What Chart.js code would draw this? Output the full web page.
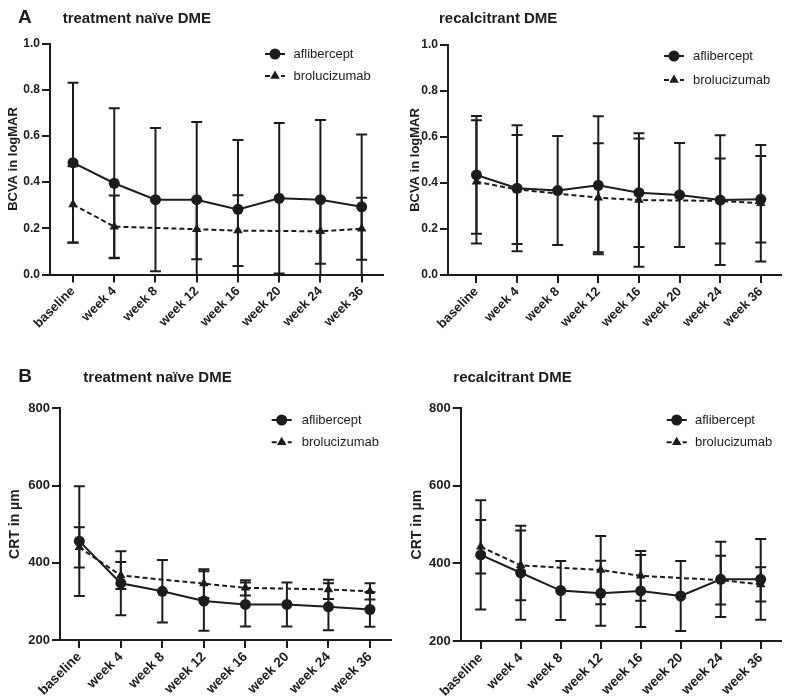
<!DOCTYPE html>
<html><head><meta charset="utf-8">
<script src="https://cdn.jsdelivr.net/npm/chart.js@4.4.0/dist/chart.umd.min.js"></script>
<style>
html,body{margin:0;padding:0;background:#fff;}
#wrap{position:relative;width:788px;height:698px;overflow:hidden;background:#fff;}
canvas{position:absolute;left:0;top:0;}
.t{position:absolute;font-family:"Liberation Sans",Arial,sans-serif;font-weight:bold;color:#1c1c1c;white-space:nowrap;line-height:1;}
</style></head><body>
<div id="wrap">
<canvas id="c1" width="788" height="698"></canvas>
<canvas id="c2" width="788" height="698"></canvas>
<canvas id="c3" width="788" height="698"></canvas>
<canvas id="c4" width="788" height="698"></canvas>
<div class="t" style="left:18px;top:7.4px;font-size:19px">A</div>
<div class="t" style="left:62.7px;top:9.9px;font-size:15px">treatment naïve DME</div>
<div class="t" style="left:439px;top:10.3px;font-size:15px">recalcitrant DME</div>
<div class="t" style="left:18.3px;top:366.3px;font-size:19px">B</div>
<div class="t" style="left:83.3px;top:368.8px;font-size:15px">treatment naïve DME</div>
<div class="t" style="left:453.3px;top:368.8px;font-size:15px">recalcitrant DME</div>
</div>
<script>
// ---- data ----
const categories = ['baseline','week 4','week 8','week 12','week 16','week 20','week 24','week 36'];
const seriesNames = ['aflibercept','brolucizumab'];
const bcvaTicks = [0.0, 0.2, 0.4, 0.6, 0.8, 1.0];
const crtTicks = [200, 400, 600, 800];

// BCVA, treatment naive
const bcvaNaiveAfli    = [0.484, 0.395, 0.324, 0.324, 0.282, 0.330, 0.324, 0.293];
const bcvaNaiveAfliSD  = [0.346, 0.325, 0.310, 0.336, 0.300, 0.326, 0.345, 0.313];
const bcvaNaiveBrolu   = [0.303, 0.207, null, 0.196, 0.190, null, 0.187, 0.198];
const bcvaNaiveBroluSD = [0.166, 0.135, null, 0.130, 0.153, null, 0.140, 0.134];
// BCVA, recalcitrant
const bcvaRecAfli    = [0.435, 0.377, 0.367, 0.390, 0.358, 0.348, 0.326, 0.329];
const bcvaRecAfliSD  = [0.256, 0.274, 0.237, 0.300, 0.236, 0.226, 0.282, 0.188];
const bcvaRecBrolu   = [0.405, 0.372, null, 0.336, 0.326, null, 0.322, 0.312];
const bcvaRecBroluSD = [0.268, 0.237, null, 0.237, 0.290, null, 0.185, 0.253];
// CRT, treatment naive
const crtNaiveAfli    = [456, 347, 326, 301, 292, 292, 286, 279];
const crtNaiveAfliSD  = [142, 83, 81, 77, 57, 57, 61, 45];
const crtNaiveBrolu   = [440, 367, null, 346, 335, null, 331, 326];
const crtNaiveBroluSD = [52, 35, null, 37, 20, null, 25, 21];
// CRT, recalcitrant
const crtRecAfli    = [422, 376, 330, 323, 329, 316, 359, 359];
const crtRecAfliSD  = [141, 121, 76, 84, 93, 90, 97, 104];
const crtRecBrolu   = [443, 395, null, 383, 368, null, 357, 346];
const crtRecBroluSD = [69, 90, null, 88, 64, null, 63, 44];

// ---- styling / plugins ----
const INK = '#1c1c1c';
const FAM = "'Liberation Sans', Arial, sans-serif";

const errorBarPlugin = {
  id: 'errbars',
  beforeDatasetsDraw(chart) {
    const {ctx, chartArea, scales} = chart;
    const x = scales.x, y = scales.y;
    ctx.save();
    ctx.beginPath();
    ctx.rect(chartArea.left - 10, chartArea.top - 10, chartArea.width + 20, chartArea.height + 10);
    ctx.clip();
    ctx.strokeStyle = INK;
    ctx.lineWidth = 2;
    ctx.setLineDash([]);
    chart.data.datasets.forEach(ds => {
      const sd = ds.sd;
      if (!sd) return;
      ds.data.forEach((pt, i) => {
        if (pt.y === null || sd[i] === null) return;
        const px = x.getPixelForValue(pt.x);
        const hi = y.getPixelForValue(pt.y + sd[i]);
        const lo = y.getPixelForValue(pt.y - sd[i]);
        ctx.beginPath();
        ctx.moveTo(px, hi); ctx.lineTo(px, lo);
        ctx.moveTo(px - 5.5, hi); ctx.lineTo(px + 5.5, hi);
        ctx.moveTo(px - 5.5, lo); ctx.lineTo(px + 5.5, lo);
        ctx.stroke();
      });
    });
    ctx.restore();
  }
};

const legendPlugin = {
  id: 'legendCustom',
  afterDraw(chart, args, opts) {
    const ctx = chart.ctx;
    ctx.save();
    ctx.fillStyle = INK; ctx.strokeStyle = INK;
    ctx.font = `${opts.size}px ${FAM}`;
    ctx.textBaseline = 'middle';
    ctx.textAlign = 'left';
    const rows = [opts.y1, opts.y2];
    seriesNames.forEach((name, k) => {
      const yy = rows[k], mx = opts.mx;
      ctx.lineWidth = 2;
      ctx.setLineDash(k === 0 ? [] : [5, 3]);
      ctx.beginPath(); ctx.moveTo(mx - 10, yy); ctx.lineTo(mx + 10, yy); ctx.stroke();
      ctx.setLineDash([]);
      ctx.beginPath();
      if (k === 0) {
        ctx.arc(mx, yy, 5.5, 0, Math.PI * 2);
      } else {
        const r = 5.5;
        ctx.moveTo(mx, yy - r);
        ctx.lineTo(mx + r * 0.866, yy + r * 0.5);
        ctx.lineTo(mx - r * 0.866, yy + r * 0.5);
        ctx.closePath();
      }
      ctx.fill();
      ctx.fillText(name, opts.tx, yy + 0.5);
    });
    ctx.restore();
  }
};

function makePanel(id, g) {
  const W = 788, H = 698;
  const xH = Math.min(60, H - g.bottom);
  const tickFontX = {family: FAM, size: g.xFont, weight: 'bold'};
  const tickFontY = {family: FAM, size: g.yFont, weight: 'bold'};
  const gridOpts = {display: true, drawOnChartArea: false, drawTicks: true, tickLength: 8, color: INK, lineWidth: 2};
  const borderOpts = {display: true, color: INK, width: 2};
  new Chart(document.getElementById(id), {
    type: 'line',
    data: {
      datasets: [
        {
          label: seriesNames[0],
          data: g.afli.map((v, i) => ({x: i, y: v})),
          sd: g.afliSD,
          borderColor: INK, backgroundColor: INK, borderWidth: 2,
          pointStyle: 'circle', pointRadius: 5.5, pointBorderWidth: 0, pointHoverRadius: 5.5,
          tension: 0, fill: false
        },
        {
          label: seriesNames[1],
          data: g.brolu.map((v, i) => ({x: i, y: v})),
          sd: g.broluSD,
          borderColor: INK, backgroundColor: INK, borderWidth: 2, borderDash: [5, 3],
          pointStyle: 'triangle', pointRadius: 5.5, pointBorderWidth: 0, pointHoverRadius: 5.5,
          tension: 0, fill: false, spanGaps: true
        }
      ]
    },
    options: {
      responsive: false, animation: false,
      layout: {padding: {left: g.left - g.yW, top: g.top, right: W - g.right, bottom: H - g.bottom - xH}},
      plugins: {
        legend: {display: false}, tooltip: {enabled: false}, title: {display: false},
        legendCustom: g.legend
      },
      scales: {
        x: {
          type: 'linear', min: g.xmin, max: g.xmax,
          afterBuildTicks: s => { s.ticks = categories.map((c, i) => ({value: i})); },
          afterFit: s => { s.height = xH; },
          ticks: {callback: v => categories[v], autoSkip: false, maxRotation: 45, minRotation: 45,
                  font: tickFontX, color: INK, padding: 1},
          grid: gridOpts, border: borderOpts
        },
        y: {
          type: 'linear', min: g.ymin, max: g.ymax,
          afterBuildTicks: s => { s.ticks = g.yTicks.map(v => ({value: v})); },
          afterFit: s => { s.width = g.yW; },
          ticks: {callback: g.fmt, font: tickFontY, color: INK, padding: 2},
          grid: gridOpts, border: borderOpts,
          title: {display: true, text: g.yTitle, color: INK,
                  font: {family: FAM, size: g.titleSize, weight: 'bold'},
                  padding: {top: g.titlePad, bottom: 0}}
        }
      }
    },
    plugins: [errorBarPlugin, legendPlugin]
  });
}

const fmtBcva = v => Number(v).toFixed(1);
const fmtCrt = v => String(v);

makePanel('c1', {
  left: 50, right: 382.7, top: 43.5, bottom: 274.5, xmin: -0.558, xmax: 7.51,
  yW: 50, titlePad: 6, titleSize: 13, xFont: 13, yFont: 12,
  ymin: 0, ymax: 1, yTicks: bcvaTicks, fmt: fmtBcva, yTitle: 'BCVA in logMAR',
  afli: bcvaNaiveAfli, afliSD: bcvaNaiveAfliSD, brolu: bcvaNaiveBrolu, broluSD: bcvaNaiveBroluSD,
  legend: {mx: 275, tx: 293.5, y1: 54, y2: 76, size: 13}
});
makePanel('c2', {
  left: 448, right: 780.7, top: 45, bottom: 275, xmin: -0.70, xmax: 7.49,
  yW: 44, titlePad: 4, titleSize: 13, xFont: 13, yFont: 12,
  ymin: 0, ymax: 1, yTicks: bcvaTicks, fmt: fmtBcva, yTitle: 'BCVA in logMAR',
  afli: bcvaRecAfli, afliSD: bcvaRecAfliSD, brolu: bcvaRecBrolu, broluSD: bcvaRecBroluSD,
  legend: {mx: 674, tx: 693, y1: 56, y2: 80, size: 13}
});
makePanel('c3', {
  left: 60, right: 390.7, top: 408.3, bottom: 640, xmin: -0.465, xmax: 7.5,
  yW: 60, titlePad: 6.6, titleSize: 14, xFont: 13.5, yFont: 13,
  ymin: 200, ymax: 800, yTicks: crtTicks, fmt: fmtCrt, yTitle: 'CRT in µm',
  afli: crtNaiveAfli, afliSD: crtNaiveAfliSD, brolu: crtNaiveBrolu, broluSD: crtNaiveBroluSD,
  legend: {mx: 281.7, tx: 301.7, y1: 420, y2: 442.3, size: 13}
});
makePanel('c4', {
  left: 460.7, right: 780.7, top: 408.3, bottom: 641, xmin: -0.5, xmax: 7.5,
  yW: 58.7, titlePad: 6.9, titleSize: 14, xFont: 13.5, yFont: 13,
  ymin: 200, ymax: 800, yTicks: crtTicks, fmt: fmtCrt, yTitle: 'CRT in µm',
  afli: crtRecAfli, afliSD: crtRecAfliSD, brolu: crtRecBrolu, broluSD: crtRecBroluSD,
  legend: {mx: 676.7, tx: 695, y1: 420, y2: 442.3, size: 13}
});
</script>
</body></html>
